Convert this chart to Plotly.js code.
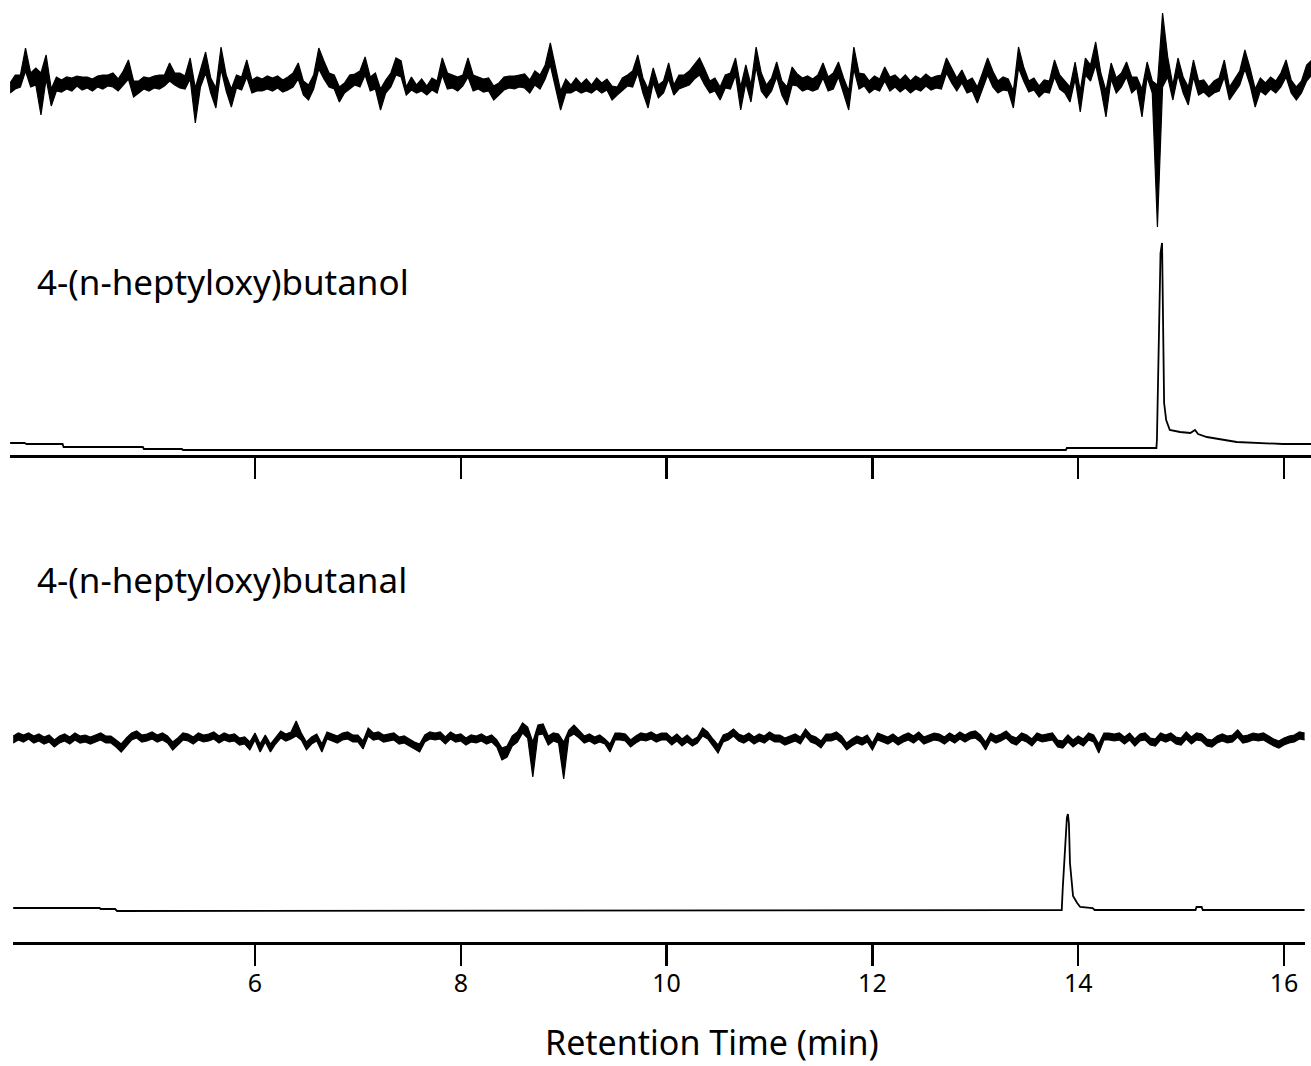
<!DOCTYPE html>
<html>
<head>
<meta charset="utf-8">
<script src="https://cdn.plot.ly/plotly-3.0.1.min.js"></script>
<style>html,body{margin:0;padding:0;background:#fff;}#chart{width:1311px;height:1066px;}</style>
</head>
<body>
<div id="chart"></div>
<script>
// ---------------- DATA ----------------
const tickValues = [6, 8, 10, 12, 14, 16];
const tickLabels = ["6", "8", "10", "12", "14", "16"];
const xTitle = "Retention Time (min)";
const labelTop = "4-(n-heptyloxy)butanol";
const labelBottom = "4-(n-heptyloxy)butanal";

// upper panel, noisy trace: retention time (min) and the two edges of the noise band at each time
const topNoiseTime = [
3.62,3.67,3.72,3.77,3.82,3.87,3.92,3.97,4.02,4.07,
4.12,4.17,4.22,4.27,4.32,4.37,4.42,4.47,4.52,4.57,
4.62,4.67,4.72,4.77,4.82,4.87,4.92,4.97,5.02,5.07,
5.12,5.17,5.22,5.27,5.32,5.37,5.42,5.47,5.52,5.57,
5.62,5.67,5.72,5.77,5.82,5.87,5.92,5.97,6.02,6.07,
6.12,6.17,6.22,6.27,6.32,6.37,6.42,6.47,6.52,6.57,
6.62,6.67,6.72,6.77,6.82,6.87,6.92,6.97,7.02,7.07,
7.12,7.17,7.22,7.27,7.32,7.37,7.42,7.47,7.52,7.57,
7.62,7.67,7.72,7.77,7.82,7.87,7.92,7.97,8.02,8.07,
8.12,8.17,8.22,8.27,8.32,8.37,8.42,8.47,8.52,8.57,
8.62,8.67,8.72,8.77,8.82,8.87,8.92,8.97,9.02,9.07,
9.12,9.17,9.22,9.27,9.32,9.37,9.42,9.47,9.52,9.57,
9.62,9.67,9.72,9.77,9.82,9.87,9.92,9.97,10.02,10.07,
10.12,10.17,10.22,10.27,10.32,10.37,10.42,10.47,10.52,10.57,
10.62,10.67,10.72,10.77,10.82,10.87,10.92,10.97,11.02,11.07,
11.12,11.17,11.22,11.27,11.32,11.37,11.42,11.47,11.52,11.57,
11.62,11.67,11.72,11.77,11.82,11.87,11.92,11.97,12.02,12.07,
12.12,12.17,12.22,12.27,12.32,12.37,12.42,12.47,12.52,12.57,
12.62,12.67,12.72,12.77,12.82,12.87,12.92,12.97,13.02,13.07,
13.12,13.17,13.22,13.27,13.32,13.37,13.42,13.47,13.52,13.57,
13.62,13.67,13.72,13.77,13.82,13.87,13.92,13.97,14.02,14.07,
14.12,14.17,14.22,14.27,14.32,14.37,14.42,14.47,14.52,14.57,
14.62,14.67,14.72,14.77,14.82,14.87,14.92,14.97,15.02,15.07,
15.12,15.17,15.22,15.27,15.32,15.37,15.42,15.47,15.52,15.57,
15.62,15.67,15.72,15.77,15.82,15.87,15.92,15.97,16.02,16.07,
16.12,16.17,16.22,16.27];
const topNoiseEdgeA = [
0,8,-4,35,10,15,-32,28,-23,-8,
3,-6,5,-3,6,-5,4,-4,8,-3,
10,4,12,23,-14,2,-6,5,-5,8,
-3,20,-2,10,-6,25,-40,12,31,5,
-25,36,8,-24,-5,6,23,3,-8,4,
-6,5,-5,3,-7,10,20,2,-17,8,
35,22,10,-6,-19,0,8,-2,12,26,
6,10,-27,3,10,25,22,-4,-7,-2,
-8,-3,-7,2,25,10,-5,6,-3,25,
8,-6,4,-8,-17,0,6,-5,7,-4,
9,3,12,8,18,40,15,-27,-10,-2,
-7,-1,-8,-2,-6,0,-7,-17,-4,5,
-3,12,28,5,-25,15,-15,2,20,-2,
8,-4,12,18,25,14,2,-8,-17,-5,
10,25,-27,18,-19,36,10,-15,5,21,
2,-22,16,-3,5,-6,4,8,20,6,
10,21,5,-27,36,10,-3,2,-6,4,
16,6,-4,3,-5,2,-6,4,-3,5,
-5,8,25,15,5,13,2,-8,-20,10,
25,12,2,6,-8,-25,36,16,2,-7,
-3,-9,2,23,8,2,-19,21,-29,25,
18,41,10,-34,20,5,10,21,6,-5,
-34,21,2,-144,70,26,-17,25,6,-22,
23,2,-9,-4,-10,5,23,-17,4,12,
33,15,-24,5,0,6,2,10,23,3,
-17,2,18,23];
const topNoiseEdgeB = [
-10,-6,8,12,-4,-2,10,4,-6,6,
-9,6,-8,7,-7,6,-8,7,-6,8,
-4,-8,-2,4,2,-10,6,-8,7,-6,
8,2,10,-5,7,4,-5,-4,10,-10,
-5,14,-8,-6,8,-7,6,-10,6,-8,
7,-8,7,-9,6,-4,4,-12,-2,-6,
14,4,-4,8,-4,-10,-6,9,-4,8,
-8,-6,-6,-10,-4,8,6,-12,6,-10,
4,-12,5,-10,8,-6,8,-8,8,6,
-8,6,-9,5,-3,-12,-7,7,-6,8,
-5,-10,-2,-6,4,18,-4,-8,4,-10,
5,-10,4,-10,5,-10,4,-3,-12,-7,
8,-4,10,-10,-6,0,-2,-10,4,-12,
-6,8,-2,4,8,-2,-10,5,-4,8,
-6,8,-4,0,-2,16,-8,-2,-8,6,
-12,-4,-2,9,-8,7,-8,-6,5,-8,
-6,6,-10,-8,14,-6,9,-10,7,-8,
2,-8,8,-9,8,-10,7,-8,9,-7,
7,-6,10,0,-8,0,-10,5,-4,-6,
8,-4,-10,-7,4,-8,15,2,-9,5,
-14,3,-10,6,-6,-10,-4,4,-8,8,
2,18,-6,-8,4,-10,-4,6,-10,6,
-6,6,-10,-2,-4,6,-2,8,-10,-4,
6,-12,3,-14,2,-8,6,-4,-10,-2,
14,-2,-6,-8,-12,-6,-10,-4,6,-10,
-4,-10,2,8];

// upper panel, chromatogram (4-(n-heptyloxy)butanol)
const topChromTime = [3.62,3.76,3.78,4.13,4.14,4.91,4.92,5.29,5.30,13.88,13.89,14.76,14.765,14.775,14.785,14.80,14.815,14.825,14.835,14.855,14.89,14.99,15.09,15.135,15.165,15.25,15.38,15.54,15.99,16.27];
const topChromSignal = [12,12,11,11,8,8,6,6,5,5,7,7,15,68,137,202,212,95,52,35,25,23,22,25,21,18,16,13,11,11];

// lower panel, noisy trace: retention time (min) and the two edges of the noise band
const botNoiseTime = [
3.65,3.70,3.75,3.80,3.85,3.90,3.95,4.00,4.05,4.10,
4.15,4.20,4.25,4.30,4.35,4.40,4.45,4.50,4.55,4.60,
4.65,4.70,4.75,4.80,4.85,4.90,4.95,5.00,5.05,5.10,
5.15,5.20,5.25,5.30,5.35,5.40,5.45,5.50,5.55,5.60,
5.65,5.70,5.75,5.80,5.85,5.90,5.95,6.00,6.05,6.10,
6.15,6.20,6.25,6.30,6.35,6.40,6.45,6.50,6.55,6.60,
6.65,6.70,6.75,6.80,6.85,6.90,6.95,7.00,7.05,7.10,
7.15,7.20,7.25,7.30,7.35,7.40,7.45,7.50,7.55,7.60,
7.65,7.70,7.75,7.80,7.85,7.90,7.95,8.00,8.05,8.10,
8.15,8.20,8.25,8.30,8.35,8.40,8.45,8.50,8.55,8.60,
8.65,8.70,8.75,8.80,8.85,8.90,8.95,9.00,9.05,9.10,
9.15,9.20,9.25,9.30,9.35,9.40,9.45,9.50,9.55,9.60,
9.65,9.70,9.75,9.80,9.85,9.90,9.95,10.00,10.05,10.10,
10.15,10.20,10.25,10.30,10.35,10.40,10.45,10.50,10.55,10.60,
10.65,10.70,10.75,10.80,10.85,10.90,10.95,11.00,11.05,11.10,
11.15,11.20,11.25,11.30,11.35,11.40,11.45,11.50,11.55,11.60,
11.65,11.70,11.75,11.80,11.85,11.90,11.95,12.00,12.05,12.10,
12.15,12.20,12.25,12.30,12.35,12.40,12.45,12.50,12.55,12.60,
12.65,12.70,12.75,12.80,12.85,12.90,12.95,13.00,13.05,13.10,
13.15,13.20,13.25,13.30,13.35,13.40,13.45,13.50,13.55,13.60,
13.65,13.70,13.75,13.80,13.85,13.90,13.95,14.00,14.05,14.10,
14.15,14.20,14.25,14.30,14.35,14.40,14.45,14.50,14.55,14.60,
14.65,14.70,14.75,14.80,14.85,14.90,14.95,15.00,15.05,15.10,
15.15,15.20,15.25,15.30,15.35,15.40,15.45,15.50,15.55,15.60,
15.65,15.70,15.75,15.80,15.85,15.90,15.95,16.00,16.05,16.10,
16.15,16.20];
const botNoiseEdgeA = [
2,-2,3,-1,2,-3,1,-4,-9,2,
-3,1,-2,2,-4,1,3,-2,2,-5,
-9,-14,-8,5,7,3,4,-1,3,-2,
-5,-12,0,5,-3,1,5,3,4,-1,
2,-2,3,-3,0,-6,-12,-2,-14,-4,
-14,1,7,4,6,17,-2,-12,-6,-3,
-14,6,4,2,5,-1,3,-4,-11,10,
5,6,3,4,-2,1,-5,-8,-11,-14,
-4,6,5,6,1,-1,3,-3,0,-4,
2,-3,1,-4,-2,-22,-19,-8,6,15,
11,-39,13,14,-7,5,4,-41,1,13,
8,2,-3,1,-4,-6,-14,-2,5,-3,
-9,2,5,4,6,3,5,-2,0,-3,
-1,-4,-2,1,10,6,-8,-15,3,5,
9,4,2,-2,1,-3,2,-1,3,-4,
0,2,-3,1,9,3,-6,-10,-3,4,
6,-5,-12,-1,2,0,-4,-12,-2,3,
1,4,0,3,-2,2,-1,1,3,-2,
-3,1,-2,2,-1,3,6,7,-4,-12,
5,2,4,7,2,0,-2,-4,-8,5,
3,4,-2,-9,-3,-4,-2,-5,-1,5,
3,-15,5,5,4,5,1,-2,-1,-3,
5,0,-8,-2,3,5,1,0,-1,1,
-2,-3,-8,-2,2,4,2,3,8,2,
3,5,4,-2,-5,-8,-3,0,2,3,
-1,-2];
const botNoiseEdgeB = [
-5,5,-4,5,-5,4,-6,3,-2,-5,
4,-6,5,-5,3,-6,-4,5,-5,2,
-2,-6,0,-2,0,-4,-3,6,-4,5,
2,-4,-7,-2,4,-6,-2,-4,-3,6,
-5,5,-4,4,-7,1,-4,5,-6,3,
-6,-6,0,-3,-1,2,5,-4,1,4,
-6,-1,-3,-5,-2,6,-4,3,-3,2,
-2,-1,-4,-3,5,-6,2,-1,-4,-6,
3,-1,-2,-1,-6,6,-4,4,-7,3,
-5,4,-6,3,-9,-10,-8,2,-4,5,
0,-4,3,4,2,-3,-5,-4,8,4,
0,-5,4,-6,3,-1,-6,5,-2,4,
-2,-5,-2,-3,-1,-4,-2,5,-7,4,
-8,3,-8,-5,2,-1,-1,-7,-4,-2,
2,-3,-5,5,-6,4,-5,6,-4,3,
-7,-5,4,-6,2,-4,1,-3,4,-3,
-1,2,-5,-8,-5,-7,3,-5,5,-4,
-6,-3,-7,-4,5,-5,6,-6,-4,5,
4,-6,5,-5,6,-4,-1,0,3,-4,
-2,-5,-3,0,-5,-7,5,3,-1,-2,
-4,-3,5,-2,-10,3,-9,2,-8,-2,
-4,-6,-2,-2,-3,-2,-6,5,-8,4,
-2,-7,-1,5,-4,-2,-6,-7,6,-6,
5,4,-1,-9,-5,-3,-5,-4,1,-5,
-4,-2,-3,5,2,-1,-10,-7,-5,-4,
6,5];

// lower panel, chromatogram (4-(n-heptyloxy)butanal)
const botChromTime = [3.65,4.49,4.50,4.64,4.66,13.84,13.85,13.87,13.89,13.90,13.91,13.92,13.94,13.95,13.99,14.02,14.14,14.16,15.14,15.15,15.20,15.21,16.20];
const botChromSignal = [34,34,33,33,31,32,54,91,124,128,118,79,58,46,39,35,34,32,32,35,35,32,32];

// ---------------- BUILD ----------------
// the dense noise is drawn as a filled band between its lower and upper edge
function bandEdges(edgeA, edgeB) {
  const lo = [], hi = [];
  for (let i = 0; i < edgeA.length; i++) {
    lo.push(Math.min(edgeA[i], edgeB[i]));
    hi.push(Math.max(edgeA[i], edgeB[i]));
  }
  return {lo, hi};
}
const topBand = bandEdges(topNoiseEdgeA, topNoiseEdgeB);
const botBand = bandEdges(botNoiseEdgeA, botNoiseEdgeB);

const W = 1311, H = 1066;
const px = x => x / W;
const py = y => 1 - y / H;
const tAt = x => 6 + (x - 255) / 102.9;   // pixel -> minutes, for axis ranges only
const FONT = "Noto Sans, Open Sans, Arial, sans-serif";

const line = w => ({color: "#000", width: w});
const bandTraces = (t, band, xa, ya) => [
  {x: t, y: band.lo, xaxis: xa, yaxis: ya, type: "scatter", mode: "lines", line: line(1.2), hoverinfo: "skip"},
  {x: t, y: band.hi, xaxis: xa, yaxis: ya, type: "scatter", mode: "lines", line: line(1.2), fill: "tonexty", fillcolor: "#000", hoverinfo: "skip"}
];
const traces = [].concat(
  bandTraces(topNoiseTime, topBand, "x", "y"),
  [{x: topChromTime, y: topChromSignal, xaxis: "x", yaxis: "y2", type: "scatter", mode: "lines", line: line(1.8), hoverinfo: "skip"}],
  bandTraces(botNoiseTime, botBand, "x2", "y3"),
  [{x: botChromTime, y: botChromSignal, xaxis: "x2", yaxis: "y4", type: "scatter", mode: "lines", line: line(1.8), hoverinfo: "skip"}]
);

const hiddenY = (dom, rng, anchor) => ({domain: dom, range: rng, anchor: anchor, visible: false, fixedrange: true});
const xBase = {
  tickmode: "array", tickvals: tickValues, ticktext: tickLabels,
  ticks: "outside", ticklen: 21, tickwidth: 2.5, tickcolor: "#000",
  showline: true, linecolor: "#000", linewidth: 2.5,
  showgrid: false, zeroline: false, fixedrange: true
};

const layout = {
  width: W, height: H,
  margin: {l: 0, r: 0, t: 0, b: 0},
  paper_bgcolor: "#fff", plot_bgcolor: "rgba(0,0,0,0)",
  showlegend: false,
  font: {family: FONT, color: "#000"},
  xaxis: Object.assign({}, xBase, {domain: [px(10), 1], range: [tAt(10), tAt(1311)], anchor: "y2", showticklabels: false}),
  xaxis2: Object.assign({}, xBase, {domain: [px(13), px(1305)], range: [tAt(13), tAt(1305)], anchor: "y4",
    showticklabels: true, ticklabelstandoff: -4, tickfont: {family: FONT, size: 25, color: "#000"}}),
  yaxis: hiddenY([py(235), py(5)], [-152, 78], "x"),
  yaxis2: hiddenY([py(455), py(235)], [0, 220], "x"),
  yaxis3: hiddenY([py(790), py(700)], [-52, 38], "x2"),
  yaxis4: hiddenY([py(942), py(800)], [0, 142], "x2"),
  annotations: [
    {text: labelTop, xref: "paper", yref: "paper", x: px(35), y: py(281), xanchor: "left", yanchor: "middle", showarrow: false, font: {family: FONT, size: 35, color: "#000"}},
    {text: labelBottom, xref: "paper", yref: "paper", x: px(35), y: py(579), xanchor: "left", yanchor: "middle", showarrow: false, font: {family: FONT, size: 35, color: "#000"}},
    {text: xTitle, xref: "paper", yref: "paper", x: px(712), y: py(1066), xanchor: "center", yanchor: "bottom", borderpad: 0, showarrow: false, font: {family: FONT, size: 34, color: "#000"}}
  ]
};

Plotly.newPlot("chart", traces, layout, {staticPlot: true, displayModeBar: false});
</script>
</body>
</html>
